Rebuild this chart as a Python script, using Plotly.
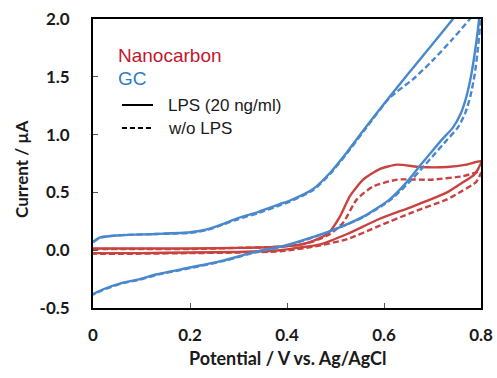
import plotly.graph_objects as go

# ---------------- data ----------------
# GC electrode, with LPS (solid)
gc_lps_v = [0, 0.015, 0.06, 0.13, 0.2, 0.235, 0.27, 0.30, 0.34, 0.386, 0.406, 0.454, 0.489, 0.524, 0.56, 0.612, 0.68, 0.742, 0.8,
            0.796, 0.789, 0.78, 0.77, 0.758, 0.742, 0.718, 0.696, 0.674, 0.645, 0.612, 0.557, 0.489, 0.42, 0.386, 0.338, 0.268, 0.2, 0.13, 0.097, 0.062, 0.02, 0]
gc_lps_i = [0.07, 0.11, 0.13, 0.14, 0.155, 0.18, 0.23, 0.28, 0.33, 0.40, 0.43, 0.53, 0.67, 0.85, 1.05, 1.33, 1.68, 2.0, 2.32,
            2.0, 1.76, 1.52, 1.33, 1.18, 1.06, 0.95, 0.84, 0.73, 0.58, 0.44, 0.29, 0.165, 0.07, 0.03, -0.01, -0.09, -0.15, -0.21, -0.25, -0.28, -0.34, -0.38]

# GC electrode, without LPS (dashed)
gc_wo_v = [0, 0.015, 0.06, 0.13, 0.2, 0.235, 0.27, 0.30, 0.34, 0.386, 0.406, 0.454, 0.489, 0.524, 0.56, 0.612, 0.66, 0.70, 0.74, 0.777, 0.8,
           0.799, 0.794, 0.787, 0.778, 0.767, 0.752, 0.729, 0.706, 0.683, 0.65, 0.615, 0.559, 0.49, 0.42, 0.386, 0.338, 0.268, 0.2, 0.13, 0.097, 0.062, 0.02, 0]
gc_wo_i = [0.07, 0.11, 0.13, 0.14, 0.15, 0.175, 0.225, 0.27, 0.32, 0.39, 0.42, 0.52, 0.66, 0.84, 1.04, 1.32, 1.48, 1.64, 1.82, 2.0, 2.12,
           2.0, 1.76, 1.52, 1.33, 1.18, 1.06, 0.95, 0.84, 0.73, 0.58, 0.44, 0.29, 0.165, 0.065, 0.025, -0.015, -0.095, -0.155, -0.215, -0.255, -0.285, -0.345, -0.385]

# Nanocarbon electrode, with LPS (solid)
nc_lps_v = [0, 0.1, 0.2, 0.3, 0.386, 0.43, 0.454, 0.475, 0.489, 0.509, 0.53, 0.557, 0.59, 0.627, 0.674, 0.73, 0.77, 0.8,
            0.795, 0.785, 0.76, 0.73, 0.66, 0.59, 0.524, 0.468, 0.42, 0.386, 0.3, 0.2, 0.1, 0]
nc_lps_i = [0.015, 0.015, 0.015, 0.02, 0.03, 0.05, 0.08, 0.12, 0.165, 0.29, 0.47, 0.61, 0.70, 0.74, 0.72, 0.72, 0.74, 0.77,
            0.71, 0.65, 0.58, 0.50, 0.38, 0.27, 0.14, 0.05, 0.02, 0.0, -0.015, -0.02, -0.025, -0.025]

# Nanocarbon electrode, without LPS (dashed)
nc_wo_v = [0, 0.1, 0.2, 0.3, 0.386, 0.43, 0.454, 0.489, 0.516, 0.544, 0.577, 0.627, 0.695, 0.763, 0.8,
           0.79, 0.76, 0.73, 0.66, 0.59, 0.524, 0.454, 0.386, 0.3, 0.2, 0.1, 0]
nc_wo_i = [0.01, 0.01, 0.01, 0.02, 0.03, 0.05, 0.075, 0.14, 0.24, 0.44, 0.55, 0.61, 0.61, 0.64, 0.68,
           0.59, 0.51, 0.44, 0.33, 0.21, 0.095, 0.03, -0.01, -0.02, -0.025, -0.03, -0.03]

x_tickvals = [0, 0.2, 0.4, 0.6, 0.8]
x_ticktext = ["0", "0.2", "0.4", "0.6", "0.8"]
y_tickvals = [-0.5, 0.0, 0.5, 1.0, 1.5, 2.0]
y_ticktext = ["-0.5", "0.0", "0.5", "1.0", "1.5", "2.0"]

legend_labels = ["Nanocarbon", "GC", "LPS (20 ng/ml)", "w/o LPS"]

# ---------------- styling ----------------
RED = "#C8433F"
BLUE = "#4A88CC"
RED_TXT = "#C3172E"
BLUE_TXT = "#2E7DC6"
W, H = 497, 378
L, R, T, B = 93, 16, 19, 70
PW, PH = W - L - R, H - T - B


def px(xp):
    return (xp - L) / PW


def py(yp):
    return (H - B - yp) / PH


fig = go.Figure()
line_w = 2.4
dash = "6px,3px"
fig.add_trace(go.Scatter(x=nc_wo_v, y=nc_wo_i, mode="lines",
                         line=dict(color=RED, width=line_w, dash=dash, shape="spline", smoothing=0.6)))
fig.add_trace(go.Scatter(x=nc_lps_v, y=nc_lps_i, mode="lines",
                         line=dict(color=RED, width=line_w, shape="spline", smoothing=0.6)))
fig.add_trace(go.Scatter(x=gc_wo_v, y=gc_wo_i, mode="lines",
                         line=dict(color=BLUE, width=line_w, dash=dash, shape="spline", smoothing=0.6)))
fig.add_trace(go.Scatter(x=gc_lps_v, y=gc_lps_i, mode="lines",
                         line=dict(color=BLUE, width=line_w, shape="spline", smoothing=0.6)))

tick_font = dict(family="Lato, 'Open Sans', sans-serif", size=17, color="#1a1a1a", weight="bold")
xtitle_font = dict(family="Lato, 'Open Sans', sans-serif", size=18, color="#1a1a1a", weight="bold")
ytitle_font = dict(family="Lato, 'Open Sans', sans-serif", size=17, color="#1a1a1a", weight="bold")
leg_font = "'Liberation Sans', Arial, sans-serif"

fig.update_xaxes(range=[0, 0.8], tickvals=x_tickvals, ticktext=x_ticktext,
                 ticks="inside", ticklen=5, tickwidth=1, tickcolor="#555",
                 showline=True, linecolor="black", linewidth=1.8, mirror=True,
                 showgrid=False, zeroline=False, tickfont=tick_font, ticklabelstandoff=11)
fig.update_yaxes(range=[-0.5, 2.0], tickvals=y_tickvals, ticktext=y_ticktext,
                 ticks="inside", ticklen=5, tickwidth=1, tickcolor="#555",
                 showline=True, linecolor="black", linewidth=1.8, mirror=True,
                 showgrid=False, zeroline=False, tickfont=tick_font, ticklabelstandoff=18)

annotations = [
    dict(text="Potential / V vs. Ag/AgCl", x=0.5, y=py(358), xref="paper", yref="paper",
         showarrow=False, font=xtitle_font, xanchor="center", yanchor="middle"),
    dict(text="Current / µA", x=px(21), y=py(170), xref="paper", yref="paper", textangle=-90,
         showarrow=False, font=ytitle_font, xanchor="center", yanchor="middle"),
    dict(text=legend_labels[0], x=px(116), y=py(56), xref="paper", yref="paper", showarrow=False,
         font=dict(family=leg_font, size=19, color=RED_TXT), xanchor="left", yanchor="middle"),
    dict(text=legend_labels[1], x=px(116), y=py(79), xref="paper", yref="paper", showarrow=False,
         font=dict(family=leg_font, size=19, color=BLUE_TXT), xanchor="left", yanchor="middle"),
    dict(text=legend_labels[2], x=px(166), y=py(105), xref="paper", yref="paper", showarrow=False,
         font=dict(family=leg_font, size=17, color="#1a1a1a"), xanchor="left", yanchor="middle"),
    dict(text=legend_labels[3], x=px(166), y=py(128), xref="paper", yref="paper", showarrow=False,
         font=dict(family=leg_font, size=17, color="#1a1a1a"), xanchor="left", yanchor="middle"),
]
shapes = [
    dict(type="line", xref="paper", yref="paper", x0=px(122), x1=px(153), y0=py(105), y1=py(105),
         line=dict(color="black", width=2)),
    dict(type="line", xref="paper", yref="paper", x0=px(122), x1=px(153), y0=py(128), y1=py(128),
         line=dict(color="black", width=2, dash="5px,3px")),
]

fig.update_layout(width=W, height=H, margin=dict(l=L, r=R, t=T, b=B, autoexpand=False),
                  paper_bgcolor="white", plot_bgcolor="white", showlegend=False,
                  annotations=annotations, shapes=shapes)

fig.write_html("out.html", config={"displayModeBar": False},
               post_script="document.body.style.margin='0';document.body.style.overflow='hidden';")
